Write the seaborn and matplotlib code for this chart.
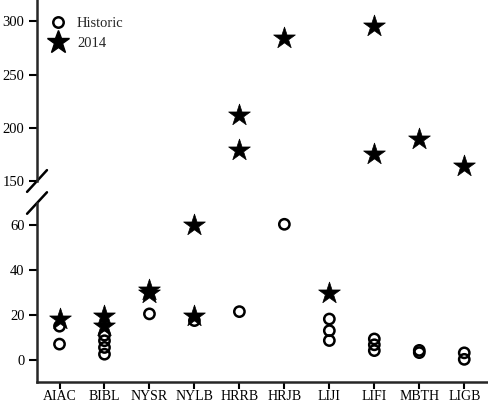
import matplotlib
matplotlib.use("Agg")
import matplotlib.pyplot as plt
import seaborn as sns
import pandas as pd
from matplotlib.lines import Line2D

sns.set_theme(style="ticks")
plt.rcParams['font.family'] = ['Liberation Serif', 'DejaVu Serif']

sites = ["AIAC", "BIBL", "NYSR", "NYLB", "HRRB", "HRJB", "LIJI", "LIFI", "MBTH", "LIGB"]

hist_site = ["AIAC", "AIAC", "BIBL", "BIBL", "BIBL", "BIBL", "NYSR", "NYLB", "HRRB", "HRJB",
             "LIJI", "LIJI", "LIJI", "LIFI", "LIFI", "LIFI", "MBTH", "MBTH", "LIGB", "LIGB"]
hist_val = [7, 15, 2.5, 5.5, 8.5, 11, 20.5, 17.5, 21.5, 60.5,
            8.6, 13, 18.2, 4.1, 6.7, 9.3, 3.2, 4.2, 0.2, 3.1]

new_site = ["AIAC", "BIBL", "BIBL", "NYSR", "NYSR", "NYLB", "NYLB", "HRRB", "HRRB", "HRJB",
            "LIJI", "LIFI", "LIFI", "MBTH", "LIGB"]
new_val = [18, 15.2, 19.7, 30, 31, 19.7, 60.4, 179, 212, 284,
           29.8, 175.5, 296, 189, 164]

pos = {s: i for i, s in enumerate(sites)}
hist = pd.DataFrame({"x": [pos[s] for s in hist_site], "y": hist_val})
new = pd.DataFrame({"x": [pos[s] for s in new_site], "y": new_val})

fig = plt.figure(figsize=(4.89, 4.04), dpi=100)
ax_top = fig.add_axes([0.0757, 0.552, 0.9243, 0.448])
ax_bot = fig.add_axes([0.0757, 0.054, 0.9243, 0.4435])

circ_kw = dict(marker="o", s=55, facecolor="none", edgecolor="black", linewidth=1.8)
star_kw = dict(marker="*", s=270, color="black", edgecolor="black", linewidth=0.5)

for ax in (ax_top, ax_bot):
    sns.scatterplot(data=hist, x="x", y="y", ax=ax, zorder=3, **circ_kw)
    sns.scatterplot(data=new, x="x", y="y", ax=ax, zorder=4, **star_kw)
    ax.set_xlim(-0.5, 9.55)
    ax.set_xlabel("")
    ax.set_ylabel("")
    for sp in ("top", "right"):
        ax.spines[sp].set_visible(False)
    ax.spines["left"].set_linewidth(1.8)
    ax.tick_params(axis="both", direction="out", length=6, width=1.5, labelsize=10.5,
                   colors="black", pad=3)

ax_top.set_ylim(150, 320)
ax_top.set_yticks([150, 200, 250, 300])
ax_top.spines["bottom"].set_visible(False)
ax_top.tick_params(axis="x", bottom=False, labelbottom=False)

ax_bot.set_ylim(-10, 70)
ax_bot.set_yticks([0, 20, 40, 60])
ax_bot.set_xticks(range(len(sites)))
ax_bot.set_xticklabels(sites)
ax_bot.spines["bottom"].set_linewidth(1.8)
ax_bot.tick_params(axis="x", length=5, pad=0.5, labelsize=10)

# break marks
def slash(ax, yfrac):
    trans = ax.transAxes
    dx, dy = 0.022, 0.06
    ax.plot([-dx, dx], [yfrac - dy, yfrac + dy], transform=trans, color="black",
            lw=1.8, clip_on=False)

slash(ax_top, 0.0)
slash(ax_bot, 1.0)

handles = [
    Line2D([], [], marker="o", linestyle="none", markerfacecolor="none",
           markeredgecolor="black", markeredgewidth=1.8, markersize=7.5, label="Historic"),
    Line2D([], [], marker="*", linestyle="none", color="black", markersize=17, label="2014"),
]
ax_top.legend(handles=handles, loc="upper left", bbox_to_anchor=(-0.005, 0.955), frameon=False,
              fontsize=10.5, handletextpad=0.3, labelspacing=0.45, borderaxespad=0.2)

fig.savefig("out.png", dpi=100)
